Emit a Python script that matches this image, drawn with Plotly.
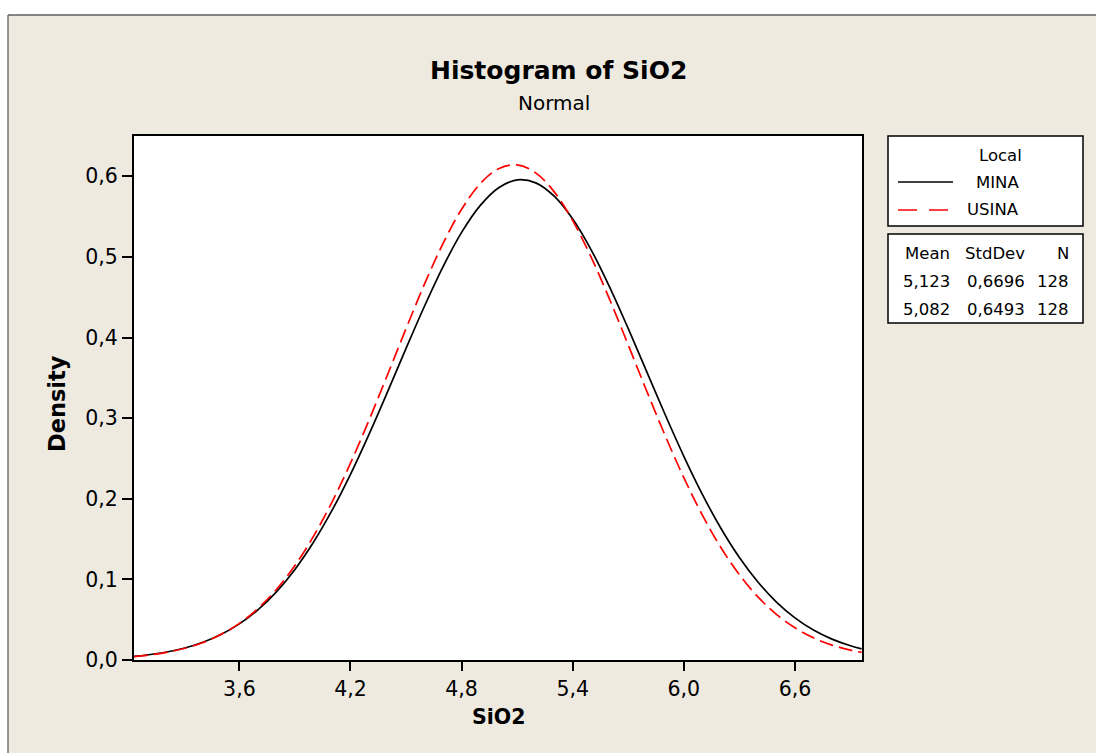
import plotly.graph_objects as go

# x positions (SiO2) at which the fitted curves were read
sio2 = [3.03, 3.1, 3.2, 3.3, 3.4, 3.5, 3.6, 3.7, 3.8, 3.9, 4.0, 4.1, 4.2, 4.3, 4.4,
        4.5, 4.6, 4.7, 4.8, 4.9, 5.0, 5.1, 5.2, 5.3, 5.4, 5.5, 5.6, 5.7, 5.8, 5.9,
        6.0, 6.1, 6.2, 6.3, 6.4, 6.5, 6.6, 6.7, 6.8, 6.9, 6.96]

mina_density = [0.0045, 0.0062, 0.0096, 0.0146, 0.0217, 0.0316, 0.0448, 0.0623, 0.0846,
                0.1124, 0.1460, 0.1855, 0.2304, 0.2800, 0.3326, 0.3865, 0.4391, 0.4880,
                0.5304, 0.5636, 0.5858, 0.5955, 0.5919, 0.5753, 0.5469, 0.5085, 0.4623,
                0.4110, 0.3574, 0.3039, 0.2527, 0.2055, 0.1634, 0.1271, 0.0967, 0.0719,
                0.0523, 0.0372, 0.0259, 0.0176, 0.0138]

usina_density = [0.0042, 0.0058, 0.0092, 0.0142, 0.0214, 0.0316, 0.0454, 0.0638, 0.0875,
                 0.1172, 0.1533, 0.1958, 0.2442, 0.2975, 0.3539, 0.4111, 0.4665, 0.5168,
                 0.5591, 0.5907, 0.6095, 0.6142, 0.6043, 0.5807, 0.5450, 0.4994, 0.4469,
                 0.3906, 0.3334, 0.2779, 0.2261, 0.1797, 0.1395, 0.1058, 0.0783, 0.0566,
                 0.0400, 0.0275, 0.0185, 0.0122, 0.0094]

x_ticks = [3.6, 4.2, 4.8, 5.4, 6.0, 6.6]
y_ticks = [0.0, 0.1, 0.2, 0.3, 0.4, 0.5, 0.6]

groups = ["MINA", "USINA"]
stat_headers = ["Mean", "StdDev", "N"]
stat_rows = [["5,123", "0,6696", "128"], ["5,082", "0,6493", "128"]]

FONT = "DejaVu Sans"
BEIGE = "#EEEAE0"

fig = go.Figure()
fig.add_trace(go.Scatter(x=sio2, y=mina_density, mode="lines", name=groups[0],
                         line=dict(color="black", width=1.7, shape="spline"),
                         showlegend=False))
fig.add_trace(go.Scatter(x=sio2, y=usina_density, mode="lines", name=groups[1],
                         line=dict(color="#FF0000", width=1.7, shape="spline", dash="14px,6px"),
                         showlegend=False))

L, T, W, H = 134, 136, 728, 524
def px(x):
    return (x - L) / W
def py(y):
    return (T + H - y) / H

shapes = []
annotations = []

# white strips outside the outer frame + gray frame line
shapes.append(dict(type="rect", xref="paper", yref="paper", x0=px(-20), x1=px(1120),
                   y0=py(15), y1=py(-20), fillcolor="white", line=dict(width=0), layer="below"))
shapes.append(dict(type="rect", xref="paper", yref="paper", x0=px(-20), x1=px(8),
                   y0=py(780), y1=py(15), fillcolor="white", line=dict(width=0), layer="below"))
shapes.append(dict(type="line", xref="paper", yref="paper", x0=px(8), x1=px(1120),
                   y0=py(15), y1=py(15), line=dict(color="#606060", width=1.3)))
shapes.append(dict(type="line", xref="paper", yref="paper", x0=px(8), x1=px(8),
                   y0=py(15), y1=py(780), line=dict(color="#606060", width=1.3)))

# legend boxes
shapes.append(dict(type="rect", xref="paper", yref="paper", x0=px(888), x1=px(1083),
                   y0=py(226), y1=py(136), fillcolor="white", line=dict(color="black", width=1.5)))
shapes.append(dict(type="rect", xref="paper", yref="paper", x0=px(888), x1=px(1083),
                   y0=py(323), y1=py(234), fillcolor="white", line=dict(color="black", width=1.5)))
shapes.append(dict(type="line", xref="paper", yref="paper", x0=px(898), x1=px(953),
                   y0=py(182), y1=py(182), line=dict(color="black", width=1.6)))
shapes.append(dict(type="line", xref="paper", yref="paper", x0=px(898), x1=px(949),
                   y0=py(210), y1=py(210), line=dict(color="#FF0000", width=1.6, dash="19px,12px")))

def ann(text, x, y, size, xanchor="center", bold=False, angle=0):
    annotations.append(dict(text=("<b>%s</b>" % text) if bold else text,
                            x=px(x), y=py(y), xref="paper", yref="paper",
                            xanchor=xanchor, yanchor="middle", showarrow=False,
                            textangle=angle, font=dict(family=FONT, size=size, color="black")))

ann("Histogram of SiO2", 558, 71, 25, bold=True)
ann("Normal", 554, 103, 20)
ann("SiO2", 498, 717, 20.5, bold=True)
ann("Density", 57, 404, 22.5, bold=True, angle=-90)

ann("Local", 1000, 155, 16.5)
ann(groups[0], 1021, 182, 16.5, xanchor="right")
ann(groups[1], 1021, 210, 16.5, xanchor="right")

col_right = [952, 1027, 1071]
for h, xr in zip(stat_headers, col_right):
    ann(h, xr, 253, 16.5, xanchor="right")
for row, yy in zip(stat_rows, [281, 309]):
    for v, xr in zip(row, col_right):
        ann(v, xr, yy, 16.5, xanchor="right")

fig.update_layout(
    width=1096, height=753,
    margin=dict(l=L, r=1096 - L - W, t=T, b=753 - T - H, pad=0),
    paper_bgcolor=BEIGE, plot_bgcolor="white",
    separators=",.",
    font=dict(family=FONT, size=20, color="black"),
    shapes=shapes, annotations=annotations,
    showlegend=False,
)
fig.update_xaxes(range=[3.031, 6.962], tickvals=x_ticks, tickformat=".1f",
                 showgrid=False, zeroline=False, showline=True, mirror=True,
                 linecolor="black", linewidth=2, ticks="outside", ticklen=9,
                 tickwidth=1.5, tickcolor="black", tickfont=dict(family=FONT, size=20.5))
fig.update_yaxes(range=[0, 0.65], tickvals=y_ticks, tickformat=".1f",
                 showgrid=False, zeroline=False, showline=True, mirror=True,
                 linecolor="black", linewidth=2, ticks="outside", ticklen=10,
                 tickwidth=1.5, tickcolor="black", tickfont=dict(family=FONT, size=20.5))

fig.write_html("out.html", config={"displayModeBar": False},
               post_script="document.body.style.margin='0';document.body.style.overflow='hidden';")
